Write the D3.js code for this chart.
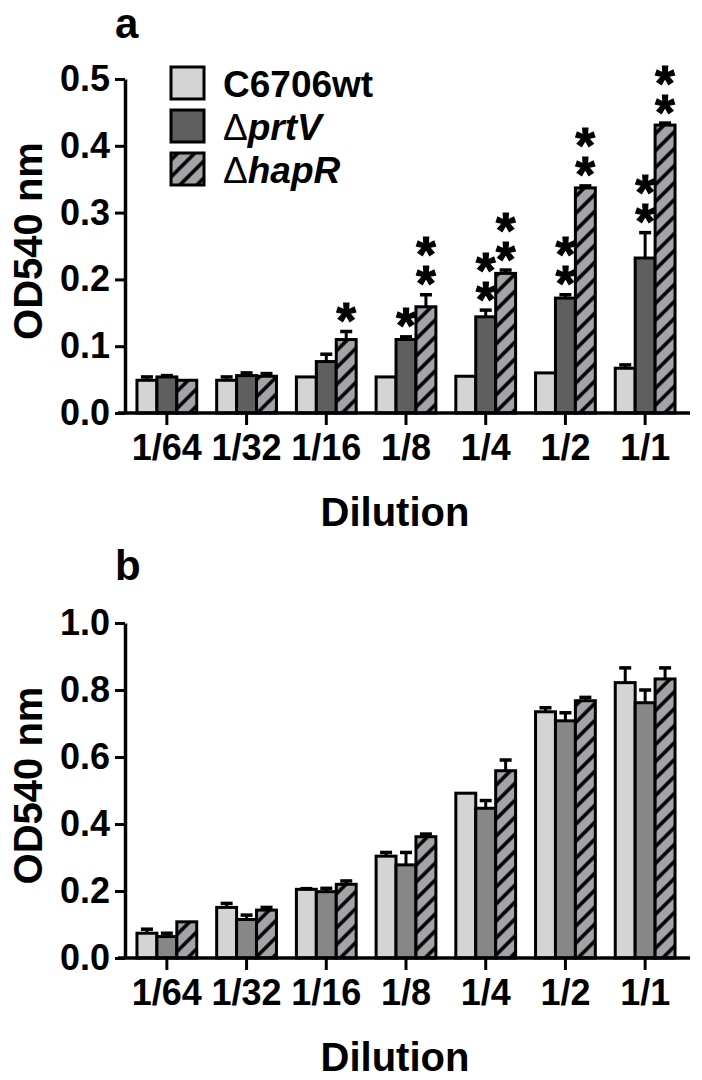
<!DOCTYPE html>
<html>
<head>
<meta charset="utf-8">
<script src="https://cdn.jsdelivr.net/npm/d3@7"></script>
<style>
  body { margin: 0; background: #fff; }
  text { font-family: "Liberation Sans", Arial, sans-serif; font-weight: bold; }
</style>
</head>
<body>
<div id="chart"></div>
<script>
    // data
    const dilutions = ["1/64", "1/32", "1/16", "1/8", "1/4", "1/2", "1/1"]
    const strains = ["C6706wt", "prtV", "hapR"]

    // panel a
    const aWt = [0.049, 0.049, 0.054, 0.054, 0.055, 0.060, 0.067]
    const aWtErr = [0.005, 0.005, 0, 0, 0, 0, 0.005]
    const aPrtV = [0.054, 0.056, 0.077, 0.110, 0.144, 0.172, 0.232]
    const aPrtVErr = [0.002, 0.004, 0.011, 0.004, 0.010, 0.005, 0.038]
    const aHapR = [0.049, 0.055, 0.110, 0.159, 0.209, 0.337, 0.431]
    const aHapRErr = [0, 0.004, 0.012, 0.018, 0.005, 0.003, 0.003]
    const aStarsPrtV = [0, 0, 0, 1, 2, 2, 2] // number of asterisks
    const aStarsHapR = [0, 0, 1, 2, 2, 2, 2]
    const aTicks = [0.0, 0.1, 0.2, 0.3, 0.4, 0.5]

    // panel b
    const bWt = [0.074, 0.151, 0.205, 0.304, 0.492, 0.735, 0.822]
    const bWtErr = [0.012, 0.012, 0.002, 0.011, 0, 0.012, 0.044]
    const bPrtV = [0.064, 0.115, 0.198, 0.278, 0.447, 0.708, 0.762]
    const bPrtVErr = [0.010, 0.013, 0.010, 0.037, 0.023, 0.024, 0.038]
    const bHapR = [0.108, 0.143, 0.220, 0.362, 0.559, 0.768, 0.833]
    const bHapRErr = [0, 0.008, 0.010, 0.008, 0.032, 0.010, 0.033]
    const bTicks = [0.0, 0.2, 0.4, 0.6, 0.8, 1.0]

    const W = 702, H = 1080
    const axisX = 125

    let svg = d3.select("#chart").append("svg")
        .attr("width", W)
        .attr("height", H)

    let defs = svg.append("defs")
    let hatch = defs.append("pattern") // diagonal hatch for hapR
        .attr("id", "hatch")
        .attr("patternUnits", "userSpaceOnUse")
        .attr("width", 12)
        .attr("height", 12)
        .attr("patternTransform", "rotate(45)")
    hatch.append("rect").attr("width", 12).attr("height", 12).attr("fill", "#a3a3a8")
    hatch.append("line").attr("x1", 6).attr("x2", 6).attr("y1", 0).attr("y2", 12)
        .attr("stroke", "#000").attr("stroke-width", 3.5)

    const x = d3.scaleBand()
        .domain(dilutions)
        .range([127, 685])
        .paddingInner(0.25)
        .paddingOuter(0.125)
    const xs = d3.scaleBand()
        .domain(strains)
        .range([0, x.bandwidth()])

    const barMid = (d) => x(d.dil) + xs(d.strain) + xs.bandwidth() / 2

    function drawPanel(p) {
        let g = svg.append("g")
        let y = d3.scaleLinear().domain([0, p.yMax]).range([p.bottom, p.top])

        let rows = []
        dilutions.forEach((d, i) => {
            p.series.forEach((s) => {
                rows.push({ dil: d, strain: s.name, v: s.values[i], e: s.err[i], fill: s.fill, stars: s.stars ? s.stars[i] : 0 })
            })
        })

        // bars
        g.selectAll("rect.bar").data(rows).enter()
            .append("rect")
            .attr("class", "bar")
            .attr("x", (d) => x(d.dil) + xs(d.strain))
            .attr("width", xs.bandwidth())
            .attr("y", (d) => y(d.v))
            .attr("height", (d) => y(0) - y(d.v))
            .attr("fill", (d) => d.fill)
            .attr("stroke", "#000")
            .attr("stroke-width", 3)

        // error bars (upper only)
        let eb = g.selectAll("g.err").data(rows.filter((d) => d.e > 0)).enter().append("g")
        eb.append("line")
            .attr("x1", barMid)
            .attr("x2", barMid)
            .attr("y1", (d) => y(d.v))
            .attr("y2", (d) => y(d.v + d.e))
            .attr("stroke", "#000").attr("stroke-width", 3)
        eb.append("line")
            .attr("x1", (d) => barMid(d) - 6)
            .attr("x2", (d) => barMid(d) + 6)
            .attr("y1", (d) => y(d.v + d.e))
            .attr("y2", (d) => y(d.v + d.e))
            .attr("stroke", "#000").attr("stroke-width", 3.5)

        // asterisks, one text per bar, stacked upward
        const starSize = 50
        let st = g.selectAll("text.star").data(rows.filter((d) => d.stars > 0)).enter()
            .append("text")
            .attr("class", "star")
            .attr("text-anchor", "middle")
            .attr("font-size", starSize)
            .attr("stroke", "#000")
            .attr("stroke-width", 1.2)
        st.each(function (d) {
            for (let k = d.stars - 1; k >= 0; k--) {
                d3.select(this).append("tspan")
                    .attr("x", barMid(d))
                    .attr("y", y(d.v + d.e) - 22 - k * 29 + 0.57 * starSize)
                    .text("*")
            }
        })

        // y axis
        let yAxis = g.append("g")
            .attr("transform", "translate(" + axisX + ",0)")
            .call(d3.axisLeft(y).tickValues(p.ticks).tickFormat(d3.format(".1f"))
                .tickSize(10).tickSizeOuter(0).tickPadding(5))
        yAxis.attr("font-size", 36).attr("font-family", null)
        yAxis.select(".domain").attr("stroke-width", 3.5)
        yAxis.selectAll(".tick line").attr("stroke-width", 3)

        // x axis
        let xAxis = g.append("g")
            .attr("transform", "translate(0," + p.bottom + ")")
            .call(d3.axisBottom(x).tickSize(12).tickSizeOuter(0).tickPadding(9))
        xAxis.attr("font-size", 36).attr("font-family", null)
        xAxis.select(".domain").remove()
        xAxis.selectAll(".tick line").attr("stroke-width", 3)
        g.append("line")
            .attr("x1", axisX - 7).attr("x2", 690)
            .attr("y1", p.bottom).attr("y2", p.bottom)
            .attr("stroke", "#000").attr("stroke-width", 3.5)

        g.append("text")
            .attr("text-anchor", "middle")
            .attr("x", 395)
            .attr("y", p.bottom + 113)
            .attr("font-size", 40)
            .text("Dilution")

        g.append("text")
            .attr("text-anchor", "middle")
            .attr("transform", "translate(42," + ((p.top + p.bottom) / 2 - 5) + ") rotate(-90)")
            .attr("font-size", 40)
            .text("OD540 nm")

        g.append("text")
            .attr("x", 115)
            .attr("y", p.labelY)
            .attr("font-size", 42)
            .text(p.label)
    }

    drawPanel({
        label: "a", labelY: 38, top: 79, bottom: 413, yMax: 0.5, ticks: aTicks,
        series: [
            { name: "C6706wt", values: aWt, err: aWtErr, fill: "#d4d4d4" },
            { name: "prtV", values: aPrtV, err: aPrtVErr, fill: "#5f5f5f", stars: aStarsPrtV },
            { name: "hapR", values: aHapR, err: aHapRErr, fill: "url(#hatch)", stars: aStarsHapR }
        ]
    })

    drawPanel({
        label: "b", labelY: 580, top: 623, bottom: 958, yMax: 1.0, ticks: bTicks,
        series: [
            { name: "C6706wt", values: bWt, err: bWtErr, fill: "#d4d4d4" },
            { name: "prtV", values: bPrtV, err: bPrtVErr, fill: "#878787" },
            { name: "hapR", values: bHapR, err: bHapRErr, fill: "url(#hatch)" }
        ]
    })

    // legend (panel a)
    const legendItems = [
        { label: "C6706wt", fill: "#d4d4d4", delta: false },
        { label: "prtV", fill: "#5f5f5f", delta: true },
        { label: "hapR", fill: "url(#hatch)", delta: true }
    ]
    const ly = d3.scalePoint().domain(legendItems.map((d) => d.label)).range([83, 169])
    let legend = svg.append("g")
    legend.selectAll("rect").data(legendItems).enter()
        .append("rect")
        .attr("x", 171)
        .attr("y", (d) => ly(d.label) - 16)
        .attr("width", 33)
        .attr("height", 32)
        .attr("fill", (d) => d.fill)
        .attr("stroke", "#000")
        .attr("stroke-width", 3)
    let lt = legend.selectAll("text").data(legendItems).enter()
        .append("text")
        .attr("x", 223)
        .attr("y", (d) => ly(d.label) + 14)
        .attr("font-size", 37)
    lt.filter((d) => d.delta).append("tspan").attr("font-weight", "normal").text("Δ")
    lt.append("tspan")
        .attr("font-style", (d) => d.delta ? "italic" : "normal")
        .text((d) => d.label)
</script>
</body>
</html>
